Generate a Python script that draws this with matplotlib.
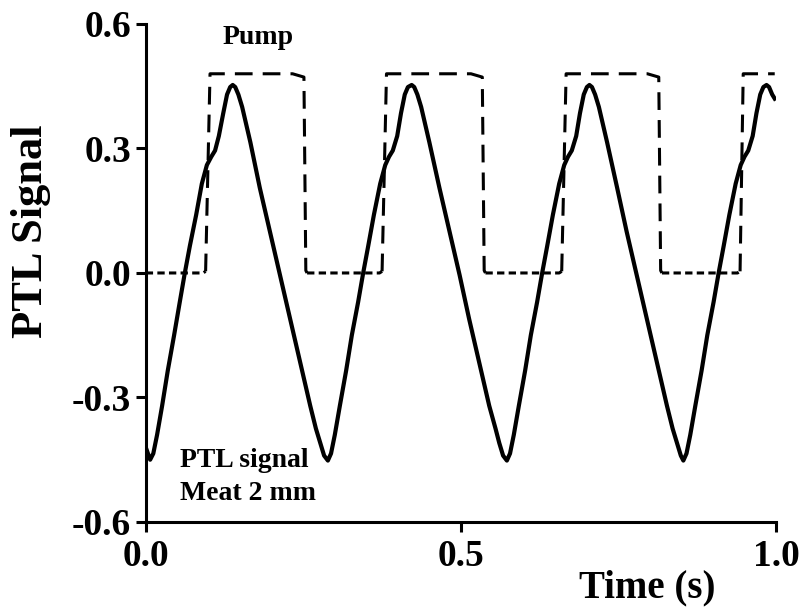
import numpy as np
import matplotlib
matplotlib.use("Agg")
import matplotlib.pyplot as plt

plt.rcParams['font.family'] = ['Liberation Serif', 'DejaVu Serif']
plt.rcParams['font.weight'] = 'bold'
plt.rcParams['axes.unicode_minus'] = False

# PTL signal (meat 2 mm), time in s
t_sig = [0.000, 0.007, 0.012, 0.018, 0.026, 0.035, 0.045, 0.054, 0.062, 0.070,
         0.080, 0.089, 0.097, 0.104, 0.110, 0.116, 0.123, 0.129, 0.134, 0.138,
         0.142, 0.147, 0.153, 0.166, 0.181, 0.197, 0.213, 0.229, 0.245, 0.261,
         0.270, 0.277, 0.283, 0.289,
         0.294, 0.300, 0.308, 0.318, 0.327, 0.337, 0.345, 0.353, 0.362, 0.372,
         0.380, 0.386, 0.392, 0.399, 0.405, 0.411, 0.416, 0.422,
         0.426, 0.431, 0.437, 0.450, 0.466, 0.482, 0.498, 0.513, 0.529, 0.545,
         0.555, 0.561, 0.567, 0.573,
         0.578, 0.584, 0.592, 0.602, 0.611, 0.621, 0.629, 0.637, 0.646, 0.656,
         0.664, 0.670, 0.676, 0.683, 0.689, 0.695, 0.700, 0.704,
         0.708, 0.713, 0.719, 0.732, 0.748, 0.763, 0.779, 0.795, 0.811, 0.827,
         0.836, 0.843, 0.849, 0.853,
         0.858, 0.864, 0.872, 0.882, 0.891, 0.901, 0.909, 0.917, 0.926, 0.936,
         0.944, 0.950, 0.956, 0.963, 0.969, 0.975, 0.980, 0.985,
         0.989, 0.994, 0.998]
v_sig = [-0.420, -0.450, -0.435, -0.390, -0.320, -0.235, -0.150, -0.070, 0.000, 0.065,
         0.140, 0.215, 0.260, 0.280, 0.295, 0.330, 0.385, 0.430, 0.448, 0.453,
         0.448, 0.430, 0.400, 0.315, 0.205, 0.100, -0.005, -0.110, -0.215, -0.320,
         -0.375, -0.410, -0.440, -0.452,
         -0.435, -0.390, -0.320, -0.235, -0.150, -0.070, 0.000, 0.065, 0.140, 0.215,
         0.260, 0.280, 0.295, 0.330, 0.385, 0.430, 0.448, 0.453,
         0.448, 0.430, 0.400, 0.315, 0.205, 0.100, -0.005, -0.110, -0.215, -0.320,
         -0.375, -0.410, -0.440, -0.452,
         -0.435, -0.390, -0.320, -0.235, -0.150, -0.070, 0.000, 0.065, 0.140, 0.215,
         0.260, 0.280, 0.295, 0.330, 0.385, 0.430, 0.448, 0.453,
         0.448, 0.430, 0.400, 0.315, 0.205, 0.100, -0.005, -0.110, -0.215, -0.320,
         -0.375, -0.410, -0.440, -0.452,
         -0.435, -0.390, -0.320, -0.235, -0.150, -0.070, 0.000, 0.065, 0.140, 0.215,
         0.260, 0.280, 0.295, 0.330, 0.385, 0.430, 0.448, 0.453,
         0.448, 0.430, 0.420]

# pump on/off times (s) and level
pump_on = [0.095, 0.375, 0.660, 0.943]
pump_off = [0.251, 0.534, 0.814]
pump_level = 0.48
t_end = 0.998

xticks = [0.0, 0.5, 1.0]
yticks = [-0.6, -0.3, 0.0, 0.3, 0.6]

fig = plt.figure(figsize=(7.99, 6.10), dpi=100)
ax = fig.add_axes([0.1824, 0.1443, 0.7888, 0.8164])

# pump square wave: "on" parts with long dashes, "off" parts with short dashes
offs = [0.0] + [f + 0.005 for f in pump_off]
for i, r in enumerate(pump_on):
    ax.plot([offs[i], r - 0.004, r], [0, 0, 0.004], color='black', lw=2.2,
            dashes=(2.4, 1.4), solid_capstyle='butt')
for i, r in enumerate(pump_on):
    if i < len(pump_off):
        f = pump_off[i]
        xs = [r, r + 0.007, f - 0.018, f, f + 0.003, f + 0.005]
        ys = [0.004, pump_level, pump_level, pump_level - 0.008, 0.006, 0]
    else:
        xs = [r, r + 0.005, t_end]
        ys = [0.004, pump_level, pump_level]
    ax.plot(xs, ys, color='black', lw=2.2, dashes=(5.8, 3.3))

ax.plot(t_sig, v_sig, color='black', lw=3.0, solid_joinstyle='round')

ax.set_xlim(0, 1.0)
ax.set_ylim(-0.6, 0.6)
ax.set_xticks(xticks)
ax.set_yticks(yticks)
ax.set_xticklabels(['%.1f' % x for x in xticks])
ax.set_yticklabels(['%.1f' % y for y in yticks])

for s in ['top', 'right']:
    ax.spines[s].set_visible(False)
for s in ['left', 'bottom']:
    ax.spines[s].set_linewidth(2.2)
ax.tick_params(direction='out', length=7.5, width=2.2, labelsize=27, pad=3)
ax.tick_params(axis='x', pad=5)
for lab in ax.get_xticklabels() + ax.get_yticklabels():
    lab.set_fontweight('bold')

ax.set_ylabel('PTL Signal', fontsize=32, fontweight='bold')
ax.yaxis.set_label_coords(-0.15, 0.584)
ax.set_xlabel('Time (s)', fontsize=28, fontweight='bold')
ax.xaxis.set_label_coords(0.795, -0.096)
ax.xaxis.label.set_va('top')

ax.text(0.178, 0.552, 'Pump', fontsize=20, fontweight='bold', ha='center', va='baseline')
ax.text(0.054, -0.467, 'PTL signal', fontsize=20, fontweight='bold', ha='left', va='baseline')
ax.text(0.054, -0.547, 'Meat 2 mm', fontsize=20, fontweight='bold', ha='left', va='baseline')

fig.savefig('out.png', dpi=100)
